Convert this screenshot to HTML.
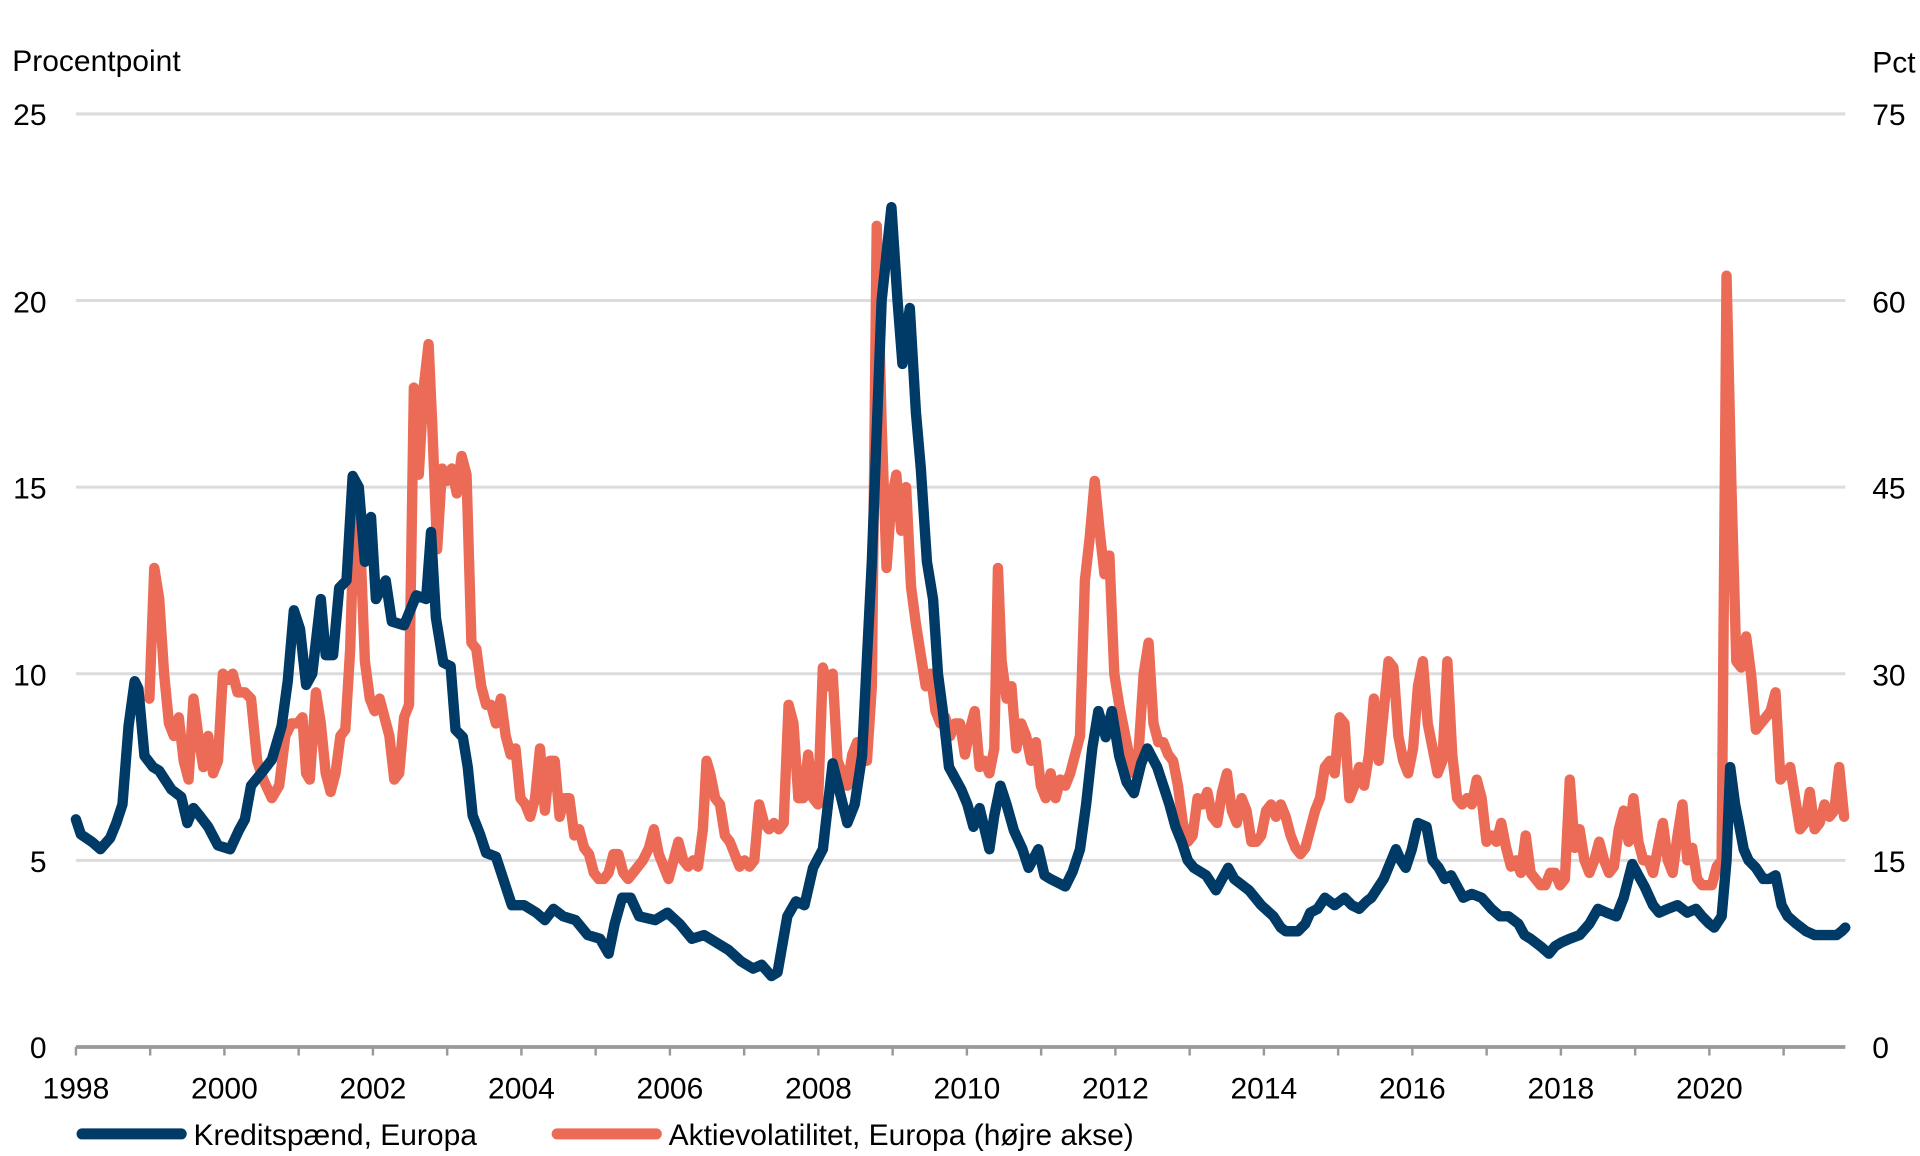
<!DOCTYPE html>
<html><head><meta charset="utf-8"><style>
html,body{margin:0;padding:0;background:#fff;}
svg{display:block;font-family:"Liberation Sans",sans-serif;}
</style></head><body>
<svg id="c" width="1920" height="1156" viewBox="0 0 1568 944" xmlns="http://www.w3.org/2000/svg">
<g stroke="#dcdcdc" stroke-width="2.5">
<line x1="62" y1="93" x2="1507" y2="93"/><line x1="62" y1="245.4" x2="1507" y2="245.4"/>
<line x1="62" y1="397.8" x2="1507" y2="397.8"/><line x1="62" y1="550.2" x2="1507" y2="550.2"/>
<line x1="62" y1="702.6" x2="1507" y2="702.6"/>
</g>
<g font-size="24.5" fill="#000">
<text x="10" y="58">Procentpoint</text>
<text x="1529" y="59">Pct</text>
<g text-anchor="end">
<text x="38" y="102">25</text><text x="38" y="255">20</text><text x="38" y="407">15</text>
<text x="38" y="560">10</text><text x="38" y="712">5</text><text x="38" y="864">0</text>
</g>
<text x="1529" y="102">75</text><text x="1529" y="255">60</text><text x="1529" y="407">45</text>
<text x="1529" y="560">30</text><text x="1529" y="712">15</text><text x="1529" y="864">0</text>
<g id="xl" text-anchor="middle"></g>
<text x="158" y="935">Kreditspænd, Europa</text>
<text x="546" y="935">Aktievolatilitet, Europa (højre akse)</text>
</g>
<g id="ticks" stroke="#999" stroke-width="2"></g>
<line x1="62" y1="855" x2="1507" y2="855" stroke="#999" stroke-width="3"/>
<polyline id="o" fill="none" stroke="#ec6b56" stroke-width="8.5" stroke-linejoin="round" stroke-linecap="round"/>
<polyline id="n" fill="none" stroke="#003a66" stroke-width="8.5" stroke-linejoin="round" stroke-linecap="round"/>
<line x1="67" y1="926" x2="148" y2="926" stroke="#003a66" stroke-width="9" stroke-linecap="round"/>
<line x1="455" y1="926" x2="536" y2="926" stroke="#ec6b56" stroke-width="9" stroke-linecap="round"/>
</svg>
<script>
var NS="http://www.w3.org/2000/svg";
var t=document.getElementById('ticks'),xl=document.getElementById('xl');
for(var i=0;i<=23;i++){var x=62+60.636*i;if(x>1508)break;var l=document.createElementNS(NS,'line');
l.setAttribute('x1',x);l.setAttribute('x2',x);l.setAttribute('y1',855);l.setAttribute('y2',862);t.appendChild(l);
if(i%2==0&&i<=22){var tx=document.createElementNS(NS,'text');tx.setAttribute('x',x);tx.setAttribute('y',897);tx.textContent=1998+i;xl.appendChild(tx);}}
var nav=[62,6.1,66,5.7,75,5.5,82,5.3,90,5.6,95,6.0,100,6.5,105,8.6,110,9.8,113,9.6,118,7.8,125,7.5,130,7.4,140,6.9,148,6.7,153,6.0,158,6.4,163,6.2,170,5.9,178,5.4,188,5.3,195,5.8,200,6.1,205,7.0,215,7.4,222,7.7,230,8.6,235,9.8,240,11.7,245,11.2,250,9.7,255,10.0,262,12.0,266,10.5,272,10.5,277,12.3,283,12.5,288,15.3,293,15.0,298,13.0,303,14.2,307,12.0,315,12.5,320,11.4,330,11.3,340,12.1,348,12.0,352,13.8,356,11.5,362,10.3,368,10.2,372,8.5,378,8.3,382,7.5,386,6.2,392,5.7,397,5.2,405,5.1,410,4.6,418,3.8,428,3.8,438,3.6,445,3.4,452,3.7,460,3.5,470,3.4,480,3.0,490,2.9,497,2.5,502,3.3,508,4.0,515,4.0,522,3.5,535,3.4,545,3.6,555,3.3,565,2.9,575,3.0,585,2.8,595,2.6,605,2.3,615,2.1,622,2.2,630,1.9,635,2.0,
643,3.5,650,3.9,657,3.8,664,4.8,672,5.3,680,7.6,686,6.8,692,6.0,698,6.5,704,7.8,712,13,720,20,728,22.5,733,20,737,18.3,743,19.8,748,17,752,15.5,757,13,762,12,766,10,770,9,775,7.5,780,7.2,785,6.9,790,6.5,795,5.9,800,6.4,808,5.3,812,6.2,817,7.0,822,6.5,828,5.8,835,5.3,840,4.8,848,5.3,853,4.6,858,4.5,870,4.3,876,4.7,882,5.3,887,6.5,892,8.0,897,9.0,903,8.3,908,9.0,914,7.8,920,7.1,926,6.8,932,7.6,937,8.0,945,7.5,950,7.0,955,6.5,960,5.9,965,5.5,970,5.0,975,4.8,985,4.6,993,4.2,1003,4.8,1008,4.5,1012,4.4,1020,4.2,1025,4.0,1030,3.8,1040,3.5,1046,3.2,1050,3.1,1060,3.1,1066,3.3,1070,3.6,1076,3.7,1082,4.0,1090,3.8,1098,4.0,1104,3.8,1110,3.7,1116,3.9,1120,4.0,1126,4.3,1130,4.5,1135,4.9,1140,5.3,1144,5.0,1148,4.8,1153,5.3,1158,6.0,1165,5.9,1170,5.0,1175,4.8,1180,4.5,1185,4.6,1190,4.3,1195,4.0,1202,4.1,1210,4.0,1218,3.7,1225,3.5,1232,3.5,1240,3.3,1245,3.0,1250,2.9,1258,2.7,1265,2.5,1270,2.7,1275,2.8,1282,2.9,1290,3.0,1298,3.3,1305,3.7,1312,3.6,1320,3.5,1326,4.0,1333,4.9,1338,4.6,1343,4.3,1350,3.8,1355,3.6,1362,3.7,1370,3.8,1378,3.6,1385,3.7,1390,3.5,1396,3.3,1400,3.2,1406,3.5,1410,5.0,1413,7.5,1417,6.5,1420,6.0,1424,5.3,1428,5.0,1434,4.8,1440,4.5,1445,4.5,1450,4.6,1455,3.8,1460,3.5,1467,3.3,1475,3.1,1482,3.0,1490,3.0,1496,3.0,1500,3.0,1504,3.1,1507,3.2];
var org=[122,28,126,38.5,130,36,134,30,138,26,142,25,146,26.5,150,23,154,21.5,158,28,162,25,166,22.5,170,25,174,22,178,23,182,30,186,29.5,190,30,194,28.5,200,28.5,205,28,210,23,215,21.5,222,20,228,21,233,25,238,26,243,26,247,26.5,250,22,253,21.5,258,28.5,262,26,266,22,270,20.5,274,22,278,25,282,25.5,286,32,290,45.5,294,41,298,31,302,28,306,27,310,28,314,26.5,318,25,322,21.5,326,22,330,26.5,334,27.5,338,53,342,46,346,53,350,56.5,353,50,357,40,361,46.5,365,45.5,369,46.5,373,44.5,377,47.5,381,46,385,32.5,389,32,393,29,397,27.5,401,27.5,405,26,409,28,413,25,417,23.5,421,24,425,20,429,19.5,433,18.5,437,20,441,24,445,19,449,23,453,23,457,18.5,461,20,465,20,469,17,473,17.5,477,16,481,15.5,485,14,489,13.5,493,13.5,497,14,501,15.5,505,15.5,509,14,513,13.5,517,14,521,14.5,525,15,530,16,534,17.5,538,15.5,542,14.5,546,13.5,550,15,554,16.5,558,15,562,14.5,566,15,570,14.5,574,17.5,577,23,580,22,584,20,588,19.5,592,17,596,16.5,600,15.5,604,14.5,608,15,612,14.5,616,15,620,19.5,624,18,628,17.5,632,18,636,17.5,640,18,644,27.5,648,26,652,20,656,20,660,23.5,664,20,668,19.5,672,30.5,676,29,680,30,684,23,688,22,692,21,696,23.5,700,24.5,704,23,708,23,712,29,716,66,720,50,724,38.5,728,44,732,46,736,41.5,740,45,744,37,748,34,752,31.5,756,29,760,30,764,27,768,26,772,26.5,776,25,780,26,784,26,788,23.5,792,25.5,796,27,800,22.5,804,23,808,22,812,24,815,38.5,818,31,822,28,826,29,830,24,834,26,838,25,842,23,846,24.5,850,21,854,20,858,22,862,20,866,21.5,870,21,874,22,878,23.5,882,25,886,37.5,890,41,894,45.5,898,41.5,902,38,906,39.5,910,30,914,27.5,918,25.5,922,23.5,926,22,930,24,934,30,938,32.5,942,26,946,24.5,950,24.5,954,23.5,958,23,962,21,966,18,970,16.5,974,17,978,20,982,19.5,986,20.5,990,18.5,994,18,998,20.5,1002,22,1006,19,1010,18,1014,20,1018,19,1022,16.5,1026,16.5,1030,17,1034,19,1038,19.5,1042,18.5,1046,19.5,1050,18.5,1054,17,1058,16,1062,15.5,1066,16,1070,17.5,1074,19,1078,20,1082,22.5,1086,23,1090,22,1094,26.5,1098,26,1102,20,1106,21,1110,22.5,1114,21,1118,23.5,1122,28,1126,23,1130,27,1134,31,1138,30.5,1142,25,1146,23,1150,22,1154,24,1158,29,1162,31,1166,26,1170,24,1174,22,1178,23,1182,31,1186,23.5,1190,20,1194,19.5,1198,20,1202,19.5,1206,21.5,1210,20,1214,16.5,1218,17,1222,16.5,1226,18,1230,16,1234,14.5,1238,15,1242,14,1246,17,1250,14,1254,13.5,1258,13,1262,13,1266,14,1270,14,1274,13,1278,13.5,1282,21.5,1286,16,1290,17.5,1294,15,1298,14,1302,15,1306,16.5,1310,15,1314,14,1318,14.5,1322,17.5,1326,19,1330,16.5,1334,20,1338,16.5,1342,15,1346,15,1350,14,1354,16,1358,18,1362,15,1366,14,1370,17,1374,19.5,1378,15,1382,16,1386,13.5,1390,13,1394,13,1398,13,1402,14.5,1406,15,1410,62,1414,45,1418,31,1422,30.5,1426,33,1430,30,1434,25.5,1438,26,1442,26.5,1446,27,1450,28.5,1454,21.5,1458,22,1462,22.5,1466,20,1470,17.5,1474,18,1478,20.5,1482,17.5,1486,18,1490,19.5,1494,18.5,1498,19,1502,22.5,1506,18.5];
function pts(a,k){var s=[];for(var i=0;i<a.length;i+=2){s.push(a[i]+','+(855-a[i+1]*k).toFixed(1));}return s.join(' ');}
document.getElementById('n').setAttribute('points',pts(nav,30.48));
document.getElementById('o').setAttribute('points',pts(org,10.16));
</script>
</body></html>
